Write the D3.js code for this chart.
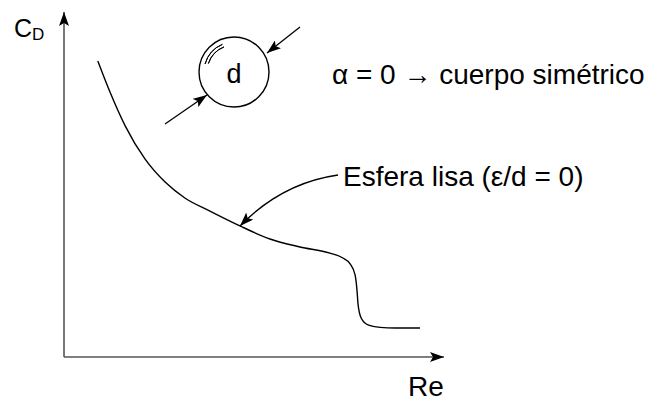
<!DOCTYPE html>
<html>
<head>
<meta charset="utf-8">
<script src="https://cdn.jsdelivr.net/npm/d3@7"></script>
<style>
  html, body { margin: 0; padding: 0; background: #fff; }
  svg { display: block; font-family: "Liberation Sans", Arial, sans-serif; }
</style>
</head>
<body>
<svg id="chart" width="657" height="406"></svg>
<script>
// Drag coefficient of a smooth sphere vs. Reynolds number (qualitative sketch units)
const reValues = [0.89, 1.21, 1.61, 2.13, 2.66, 3.18, 3.84, 4.63, 5.42, 6.21, 7.00, 7.34, 7.53, 7.66, 7.71, 7.74, 7.82, 8.00, 8.32, 8.71, 9.37];
const cdValues = [8.58, 7.68, 6.70, 5.74, 5.07, 4.61, 4.23, 3.80, 3.42, 3.19, 3.01, 2.87, 2.70, 2.38, 1.94, 1.51, 1.13, 0.93, 0.86, 0.84, 0.84];
const axisLabels = ["C", "D", "Re"];
const annotations = ["\u03B1 = 0 \u2192 cuerpo sim\u00E9trico", "Esfera lisa (\u03B5/d = 0)", "d"];

const svg = d3.select("#chart");
const x = d3.scaleLinear().domain([0, 10]).range([64, 444]);
const y = d3.scaleLinear().domain([0, 10]).range([357, 12]);

const defs = svg.append("defs");
defs.append("marker")
  .attr("id", "arrowHead")
  .attr("viewBox", "0 0 14 10")
  .attr("refX", 14).attr("refY", 5)
  .attr("markerWidth", 14).attr("markerHeight", 10)
  .attr("markerUnits", "userSpaceOnUse")
  .attr("orient", "auto")
  .append("path")
  .attr("d", "M0,0 L14,5 L0,10 L3,5 Z")
  .attr("fill", "#000");

// Axes (no ticks) with arrowheads
svg.append("line")
  .attr("x1", x(0)).attr("y1", y(0)).attr("x2", x(0)).attr("y2", y(10))
  .attr("stroke", "#555").attr("stroke-width", 1.6)
  .attr("marker-end", "url(#arrowHead)");
svg.append("line")
  .attr("x1", x(0)).attr("y1", y(0)).attr("x2", x(10)).attr("y2", y(0))
  .attr("stroke", "#555").attr("stroke-width", 1.6)
  .attr("marker-end", "url(#arrowHead)");

// Axis titles
const cd = svg.append("text").attr("x", 14).attr("y", 37)
  .attr("font-size", 25).attr("fill", "#000");
cd.append("tspan").text(axisLabels[0]);
cd.append("tspan").attr("font-size", 17).attr("dy", 3).text(axisLabels[1]);
svg.append("text").attr("x", 408).attr("y", 396)
  .attr("font-size", 28).attr("fill", "#000").text(axisLabels[2]);

// Drag curve
const pts = reValues.map((r, i) => [r, cdValues[i]]);
svg.append("path")
  .datum(pts)
  .attr("fill", "none").attr("stroke", "#000").attr("stroke-width", 1.4)
  .attr("d", d3.line().x(d => x(d[0])).y(d => y(d[1])).curve(d3.curveMonotoneX));

// Sphere sketch with diameter arrows
const cx = 234, cy = 72, r = 35;
svg.append("circle").attr("cx", cx).attr("cy", cy).attr("r", r)
  .attr("fill", "none").attr("stroke", "#000").attr("stroke-width", 1.4);
const arc = d3.arc();
[[27, -1.25, -0.38], [30, -1.3, -0.4]].forEach(([rr, a0, a1]) => {
  svg.append("path")
    .attr("transform", `translate(${cx},${cy})`)
    .attr("d", arc({innerRadius: rr, outerRadius: rr, startAngle: a0, endAngle: a1}))
    .attr("fill", "none").attr("stroke", "#000").attr("stroke-width", 1);
});
svg.append("text").attr("x", cx).attr("y", 83).attr("text-anchor", "middle")
  .attr("font-size", 27).attr("fill", "#000").text(annotations[2]);
svg.append("line").attr("x1", 300).attr("y1", 27).attr("x2", 267).attr("y2", 53)
  .attr("stroke", "#000").attr("stroke-width", 1.3).attr("marker-end", "url(#arrowHead)");
svg.append("line").attr("x1", 165).attr("y1", 124).attr("x2", 207).attr("y2", 95)
  .attr("stroke", "#000").attr("stroke-width", 1.3).attr("marker-end", "url(#arrowHead)");

// Annotations
svg.append("text").attr("x", 332).attr("y", 84)
  .attr("font-size", 28).attr("fill", "#000").text(annotations[0]);
svg.append("text").attr("x", 343).attr("y", 186)
  .attr("font-size", 28).attr("fill", "#000").text(annotations[1]);
svg.append("path")
  .attr("d", "M338,175 Q282,183 240,226")
  .attr("fill", "none").attr("stroke", "#000").attr("stroke-width", 1.3)
  .attr("marker-end", "url(#arrowHead)");
</script>
</body>
</html>
